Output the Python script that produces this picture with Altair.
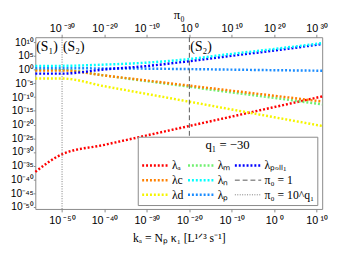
import altair as alt
import pandas as pd

# ---- data (log10 values) ----
x_dec = [-56.3, -50, -40, -30, -20, -10, 0, 11.3]          # log10 k_a
lam_a = [-37.2, -30.8, -27.37, -23.93, -20.5, -17.07, -13.63, -9.75]
lam_c = [-0.28, -0.28, -2.13, -3.97, -5.82, -7.67, -9.51, -11.6]
lam_d = [-3.23, -3.23, -6.05, -8.86, -11.68, -14.50, -17.32, -20.5]
lam_m = [-0.1, -0.1, -2.14, -4.18, -6.23, -8.27, -10.31, -12.6]
lam_n = [1.38, 1.38, 1.84, 2.55, 3.87, 5.74, 7.52, 9.65]
lam_p = [0.5, 0.5, 0.45, 0.35, 0.2, 0.0, -0.2, -0.4]
lam_poll1 = [-1.45, -1.45, 0.07, 1.31, 3.09, 5.04, 6.99, 9.29]

# legend is filled column by column
series_names = ["λₐ", "λc", "λd", "λₘ", "λₙ", "λₚ", "λₚₒₗₗ₁", "π₀ = 1", "π₀ = 10^q₁"]
series_colors = ["#ff0000", "#ff8000", "#f5f500", "#70f070", "#00ffff", "#1a8cff", "#0000ff", "#555555", "#777777"]
series_dash = [[2, 2], [2, 2], [2, 2], [2, 2], [2, 2], [2, 2], [2, 2], [5, 3], [1, 1.5]]
series_width = [2.5, 2.5, 2.5, 2.5, 2.5, 2.5, 2.5, 1, 1]

rule_x = [-20, -50]
rule_names = ["π₀ = 1", "π₀ = 10^q₁"]

ann_x = [-56.3, -50, -20]
ann_y = [8.3, 8.3, 8.3]
ann_text = ["(S₁)", "(S₂)", "(S₂)"]

x_ticks = [-50, -40, -30, -20, -10, 0, 10]
y_ticks = [-50, -45, -40, -35, -30, -25, -20, -15, -10, -5, 0, 5, 10]
pi_ticks = [-30, -20, -10, 0, 10, 20, 30]

X_DOM = [-56.3, 11.3]
Y_DOM = [-50.7, 11.8]
PI_DOM = [X_DOM[0] + 20, X_DOM[1] + 20]

SUP = str.maketrans("0123456789-", "⁰¹²³⁴⁵⁶⁷⁸⁹⁻")


def label_expr(vals, sep="\u2009"):
    expr = "''"
    for v in reversed(vals):
        lab = "10" + sep + str(v).translate(SUP)
        expr = f"datum.value == {v} ? '{lab}' : " + expr
    return expr


rows = []
for name, vals in [("λₐ", lam_a), ("λd", lam_d), ("λₘ", lam_m), ("λc", lam_c),
                   ("λₚ", lam_p), ("λₚₒₗₗ₁", lam_poll1), ("λₙ", lam_n)]:
    for xv, yv in zip(x_dec, vals):
        rows.append({"x": xv, "y": yv, "s": name})
df = pd.DataFrame(rows)
df_rule = pd.DataFrame({"x": rule_x, "s": rule_names})
df_ann = pd.DataFrame({"x": ann_x, "y": ann_y, "t": ann_text})
df_pi = pd.DataFrame({"p": pi_ticks})

legend = alt.Legend(
    title="q₁ = −30", orient="none", legendX=105, legendY=102, columns=3,
    columnPadding=3, rowPadding=0, padding=3, strokeColor="#888888", fillColor="white",
    titleFont="Liberation Serif", titleFontSize=13, titleFontWeight="normal",
    titleAnchor="middle", titlePadding=6,
    labelFont="Liberation Serif", labelFontSize=12, labelOffset=2,
    symbolSize=729, symbolType="stroke", clipHeight=15,
)

xscale = alt.Scale(domain=X_DOM, nice=False, zero=False)
yscale = alt.Scale(domain=Y_DOM, nice=False, zero=False)

color = alt.Color("s:N", scale=alt.Scale(domain=series_names, range=series_colors), legend=legend)
dash = alt.StrokeDash("s:N", scale=alt.Scale(domain=series_names, range=series_dash), legend=legend)
width = alt.StrokeWidth("s:N", scale=alt.Scale(type="ordinal", domain=series_names, range=series_width), legend=legend)

xaxis = alt.Axis(values=x_ticks, labelExpr=label_expr(x_ticks), labelOverlap=False,
                 labelPadding=3, title="kₐ = Nₚ κ₁ [L¹ᐟ³ s⁻¹]", titlePadding=7,
                 titleFontSize=12)
yaxis = alt.Axis(values=y_ticks, labelExpr=label_expr(y_ticks, ""), labelOverlap=False,
                 labelPadding=0, tickSize=2, labelFontSize=10.5, title=None)

lines = alt.Chart(df).mark_line(interpolate="monotone").encode(
    x=alt.X("x:Q", scale=xscale, axis=xaxis),
    y=alt.Y("y:Q", scale=yscale, axis=yaxis),
    color=color, strokeDash=dash, strokeWidth=width,
    order=alt.Order("x:Q"),
)

rules = alt.Chart(df_rule).mark_rule().encode(
    x=alt.X("x:Q", scale=xscale, axis=xaxis),
    color=color, strokeDash=dash, strokeWidth=width,
)

texts = alt.Chart(df_ann).mark_text(
    align="left", baseline="middle", dx=1, font="Liberation Serif", fontSize=14,
    color="black"
).encode(
    x=alt.X("x:Q", scale=xscale, axis=xaxis),
    y=alt.Y("y:Q", scale=yscale, axis=yaxis),
    text="t:N",
)

main = alt.layer(lines, rules, texts)

top = alt.Chart(df_pi).mark_point(opacity=0).encode(
    x=alt.X("p:Q", scale=alt.Scale(domain=PI_DOM, nice=False, zero=False),
            axis=alt.Axis(orient="top", values=pi_ticks, labelExpr=label_expr(pi_ticks),
                          labelOverlap=False, labelPadding=1,
                          title="π₀", titlePadding=1)),
)

chart = alt.layer(main, top).resolve_scale(x="independent").properties(
    width=294, height=176,
    autosize=alt.AutoSizeParams(type="none"),
    padding={"left": 28, "top": 27, "right": 8, "bottom": 34},
).configure_view(
    stroke="#888888", strokeWidth=1
).configure_axis(
    domain=False, grid=False, ticks=True, tickSize=3, tickColor="#888888",
    labelFont="Liberation Sans", labelFontSize=11, labelColor="black",
    titleFont="Liberation Serif", titleFontSize=13, titleFontWeight="normal", titleColor="black",
    labelFlush=False,
)

chart.save("out.html", embed_options={"renderer": "svg", "actions": False})
